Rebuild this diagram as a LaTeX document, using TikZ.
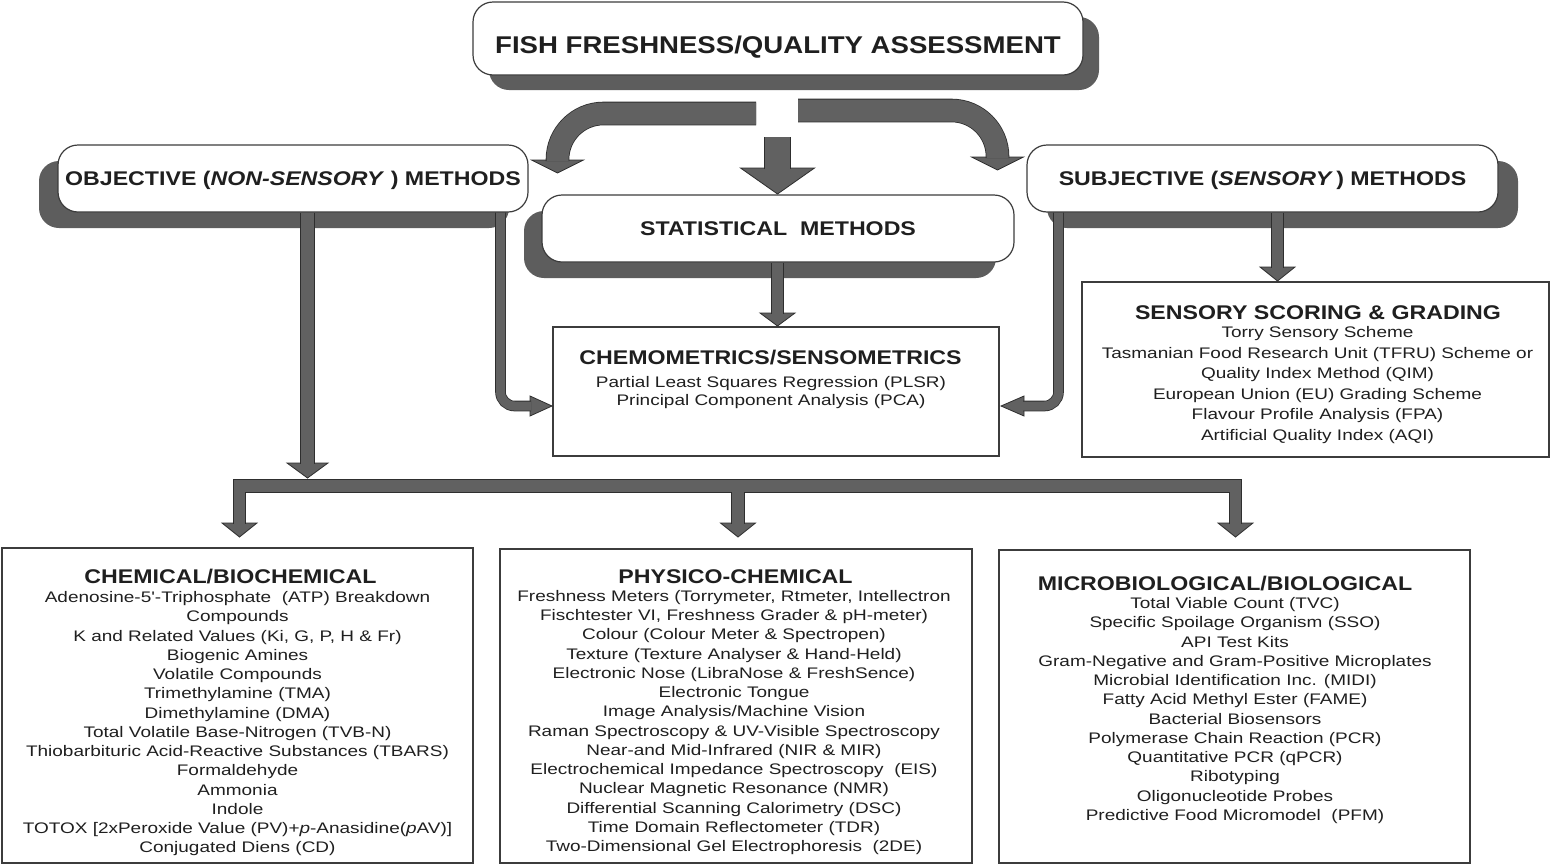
\documentclass[tikz,border=0pt]{standalone}
\usepackage{fontspec}
\usetikzlibrary{calc,shadows}
\newfontfamily\bodyf{Liberation Sans}[FakeStretch=1.24]
\newfontfamily\hdf{Liberation Sans}[FakeStretch=1.17]
\newfontfamily\ttlf{Liberation Sans}[FakeStretch=1.14]
\definecolor{arrc}{HTML}{616161}
\definecolor{edgec}{HTML}{2E2E2E}
\definecolor{shd}{HTML}{5D5D5D}
\definecolor{boxedge}{HTML}{3C3C3C}
\definecolor{textc}{HTML}{1F1F1F}
\newcommand\blk[2]{%
  \draw[line width=#1+1.6pt, draw=edgec, line cap=butt, line join=miter] #2;
  \draw[line width=#1, draw=arrc, line cap=butt, line join=miter] #2;}
\newcommand\dhead[3]{\filldraw[fill=arrc, draw=edgec, line width=0.8pt, line join=miter]
  ($(#1)+(-#2,0)$) -- ($(#1)+(#2,0)$) -- ($(#1)+(0,#3)$) -- cycle;}
\newcommand\hhead[3]{\filldraw[fill=arrc, draw=edgec, line width=0.8pt, line join=miter]
  ($(#1)+(0,-#2)$) -- ($(#1)+(0,#2)$) -- ($(#1)+(#3,0)$) -- cycle;}
\tikzset{
  ttlbox/.style={draw=boxedge, fill=white, rounded corners=20pt, line width=1.2pt,
    minimum width=610pt, minimum height=73pt, inner sep=0pt, text height=29.3pt, text depth=0pt,
    text=textc, font=\ttlf\bfseries\fontsize{24.2}{28}\selectfont,
    drop shadow={shadow xshift=16pt,shadow yshift=-15pt,fill=shd,opacity=1}},
  mbox/.style={draw=boxedge, fill=white, rounded corners=20pt, line width=1.2pt,
    minimum height=67pt, inner sep=0pt, text height=14.2pt, text depth=0pt,
    text=textc, font=\hdf\bfseries\fontsize{19.8}{22}\selectfont},
  shL/.style={drop shadow={shadow xshift=-19pt,shadow yshift=-16pt,fill=shd,opacity=1}},
  shR/.style={drop shadow={shadow xshift=20pt,shadow yshift=-16pt,fill=shd,opacity=1}},
  rbx/.style={draw=boxedge, line width=1.5pt, fill=white, inner sep=0pt},
  hd/.style={anchor=base, inner sep=0pt, text=textc, font=\hdf\bfseries\fontsize{19.8}{22}\selectfont},
  body/.style={anchor=base, inner sep=0pt, text=textc, font=\bodyf\fontsize{15.3}{18}\selectfont},
}
\begin{document}
\begin{tikzpicture}[x=1pt,y=-1pt]
\useasboundingbox (0,0) rectangle (1552,865);
\fill[white] (0,0) rectangle (1552,865);

% ---- boxes ----
\node[ttlbox] (title) at (778,38.5) {FISH FRESHNESS/QUALITY ASSESSMENT};
\node[mbox, shL, minimum width=470pt] (obj) at (293,178.5) {OBJECTIVE (\textit{NON-SENSORY} ) METHODS};
\node[mbox, shR, minimum width=471pt] (subj) at (1262.5,178.5) {SUBJECTIVE (\textit{SENSORY}\,) METHODS};
\node[mbox, minimum width=472pt, drop shadow={shadow xshift=-18pt,shadow yshift=-16pt,fill=shd,opacity=1}] (stat) at (778,228.5) {STATISTICAL\ \ METHODS};

\node[rbx, minimum width=446pt, minimum height=129pt] (chemo) at (776,391.5) {};
\node[rbx, minimum width=467pt, minimum height=175pt] (sens) at (1315.5,369.5) {};
\node[rbx, minimum width=471pt, minimum height=315pt] (chem) at (237.5,705.5) {};
\node[rbx, minimum width=472pt, minimum height=314pt] (phys) at (736,706) {};
\node[rbx, minimum width=471pt, minimum height=313pt] (micro) at (1234.5,706.5) {};

% ---- texts ----
\node[hd] (chemoH) at (770.5,364) {CHEMOMETRICS/SENSOMETRICS};
\node[body] (chemo1) at (771,387) {Partial Least Squares Regression (PLSR)};
\node[body] (chemo2) at (771,405) {Principal Component Analysis (PCA)};

\node[hd] (sensH) at (1318,319) {SENSORY SCORING \& GRADING};
\foreach \t [count=\i from 0] in {Torry Sensory Scheme, Tasmanian Food Research Unit (TFRU) Scheme or,
  Quality Index Method (QIM), European Union (EU) Grading Scheme, Flavour Profile Analysis (FPA),
  Artificial Quality Index (AQI)}
  \node[body] (sensL\i) at (1317.5,337.5+20.6*\i) {\t};

\node[hd] (chemH) at (230.5,583) {CHEMICAL/BIOCHEMICAL};
\foreach \t [count=\i from 0] in {{Adenosine-5'-Triphosphate\ \ (ATP) Breakdown}, Compounds,
  {K and Related Values (Ki, G, P, H \& Fr)}, Biogenic Amines, Volatile Compounds,
  Trimethylamine (TMA), Dimethylamine (DMA), Total Volatile Base-Nitrogen (TVB-N),
  Thiobarbituric Acid-Reactive Substances (TBARS), Formaldehyde, Ammonia, Indole,
  {TOTOX [2xPeroxide Value (PV)+\textit{p}-Anasidine(\textit{p}AV)]}, Conjugated Diens (CD)}
  \node[body] (chemL\i) at (237.5,602.5+19.25*\i) {\t};

\node[hd] (physH) at (735.5,583) {PHYSICO-CHEMICAL};
\foreach \t [count=\i from 0] in {{Freshness Meters (Torrymeter, Rtmeter, Intellectron},
  {Fischtester VI, Freshness Grader \& pH-meter)}, Colour (Colour Meter \& Spectropen),
  Texture (Texture Analyser \& Hand-Held), Electronic Nose (LibraNose \& FreshSence),
  Electronic Tongue, Image Analysis/Machine Vision, Raman Spectroscopy \& UV-Visible Spectroscopy,
  Near-and Mid-Infrared (NIR \& MIR), {Electrochemical Impedance Spectroscopy\ \ (EIS)},
  Nuclear Magnetic Resonance (NMR), Differential Scanning Calorimetry (DSC),
  Time Domain Reflectometer (TDR), {Two-Dimensional Gel Electrophoresis\ \ (2DE)}}
  \node[body] (physL\i) at (734,601.5+19.23*\i) {\t};

\node[hd] (microH) at (1225,590) {MICROBIOLOGICAL/BIOLOGICAL};
\foreach \t [count=\i from 0] in {Total Viable Count (TVC), Specific Spoilage Organism (SSO),
  API Test Kits, Gram-Negative and Gram-Positive Microplates, Microbial Identification Inc. (MIDI),
  Fatty Acid Methyl Ester (FAME), Bacterial Biosensors, Polymerase Chain Reaction (PCR),
  Quantitative PCR (qPCR), Ribotyping, Oligonucleotide Probes, {Predictive Food Micromodel\ \ (PFM)}}
  \node[body] (microL\i) at (1235,608.5+19.27*\i) {\t};

% ---- connector coordinates ----
\coordinate (Ls) at (756,113.5);  \coordinate (Lc) at (557.5,113.5); \coordinate (Lb) at (557.5,160);
\coordinate (Rs) at (798,110.5);  \coordinate (Rc) at (997.5,110.5); \coordinate (Rb) at (997.5,157);
\coordinate (Ms) at (777.5,137);  \coordinate (Mb) at (777.5,168);
\coordinate (Sb) at (777.5,313);
\coordinate (Ub) at (1277.5,267);
\coordinate (Ob) at (307.5,463);
\coordinate (Pc) at (500.5,406);  \coordinate (Pb) at (530,406);
\coordinate (Qc) at (1058.5,406); \coordinate (Qb) at (1024,406);
\coordinate (B1) at (239.5,486);  \coordinate (B2) at (1235.5,486); \coordinate (B3) at (738,486);
\coordinate (H1) at (239.5,523);  \coordinate (H2) at (738,523);    \coordinate (H3) at (1235.5,523);

% ---- heads ----
\dhead{Lb}{26}{13}
\dhead{Rb}{26}{13}
\dhead{Mb}{37}{26}
\dhead{Sb}{17.5}{13}
\dhead{Ub}{17.5}{14}
\dhead{Ob}{20.5}{15}
\hhead{Pb}{10}{22}
\hhead{Qb}{10}{-23}
\dhead{H1}{17.5}{14}
\dhead{H2}{17.5}{14}
\dhead{H3}{17.5}{14}

% ---- bands ----
\blk{22pt}{(Ls) [rounded corners=46pt] -- (Lc) -- ($(Lb)+(0,1)$)}
\blk{22pt}{(Rs) [rounded corners=46pt] -- (Rc) -- ($(Rb)+(0,1)$)}
\blk{25pt}{(Ms) -- ($(Mb)+(0,1)$)}
\blk{11pt}{(stat.south -| Sb) -- ($(Sb)+(0,1)$)}
\blk{11pt}{(subj.south -| Ub) -- ($(Ub)+(0,1)$)}
\blk{13pt}{(obj.south -| Ob) -- ($(Ob)+(0,1)$)}
\blk{9pt}{(obj.south -| Pc) [rounded corners=14pt] -- (Pc) -- ($(Pb)+(1,0)$)}
\blk{9pt}{(subj.south -| Qc) [rounded corners=14pt] -- (Qc) -- ($(Qb)+(-1,0)$)}
\blk{11.5pt}{($(H1)+(0,1)$) -- (B1) -- (B2) -- ($(H3)+(0,1)$) (B3) -- ($(H2)+(0,1)$)}
\end{tikzpicture}
\end{document}
